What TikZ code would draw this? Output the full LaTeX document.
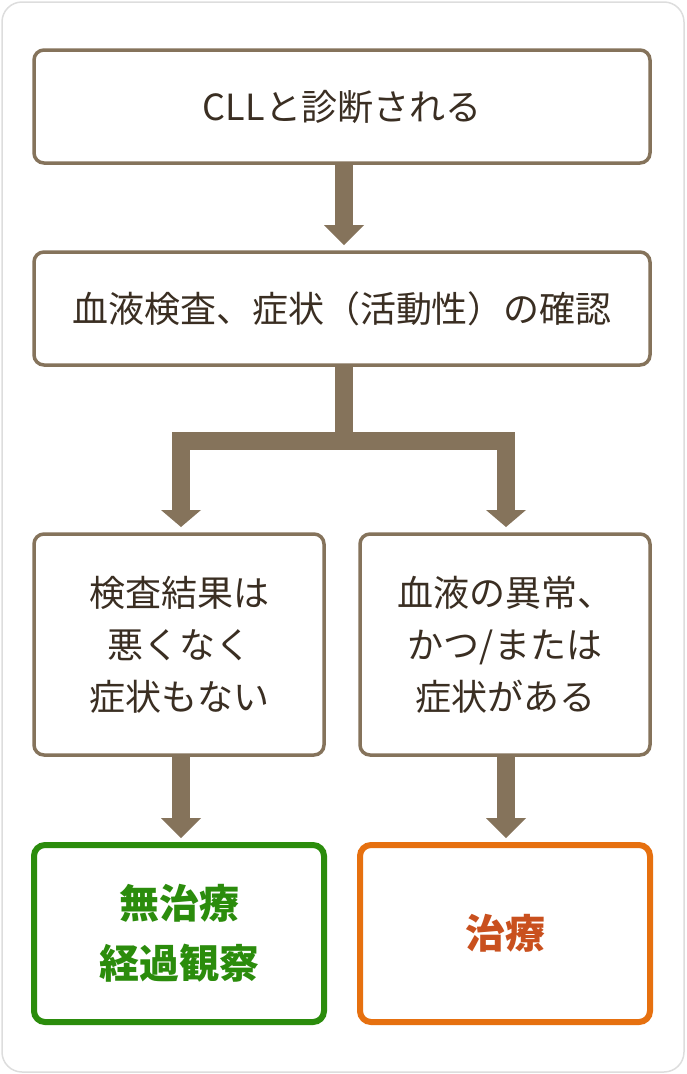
\documentclass[tikz,border=0pt]{standalone}
\usepackage{fontspec}
\setmainfont{Noto Sans CJK JP}
\definecolor{brn}{HTML}{85735B}
\definecolor{txt}{HTML}{3A2E22}
\definecolor{grn}{HTML}{2B8C0C}
\definecolor{org}{HTML}{E6700F}
\definecolor{orgt}{HTML}{C9501E}
\definecolor{outl}{HTML}{DDDDDD}
\begin{document}
\begin{tikzpicture}[x=1pt,y=-1pt,
 box/.style={draw=brn,line width=3.5pt,rounded corners=10pt,fill=white,font=\fontsize{36}{52}\selectfont,text=txt,align=center},
 res/.style={line width=6pt,rounded corners=11pt,fill=white,font=\fontsize{40}{60}\selectfont\bfseries,align=center},
 shaft/.style={brn,line width=18pt},
 head/.style={fill=brn,draw=none}]
\useasboundingbox (0,0) rectangle (686,1074);
\draw[outl,line width=1.5pt,rounded corners=20pt,fill=white] (2,2) rectangle (684,1072);
\node[box,minimum width=616pt,minimum height=113pt] (b1) at (342,106.5) {CLLと診断される};
\node[box,minimum width=616pt,minimum height=113pt] (b2) at (342,308.5) {血液検査、症状（活動性）の確認};
\node[box,minimum width=290pt,minimum height=221pt] (b3) at (179,644.5) {検査結果は\\悪くなく\\症状もない};
\node[box,minimum width=290pt,minimum height=221pt] (b4) at (505,644.5) {血液の異常、\\かつ/または\\症状がある};
\node[res,draw=grn,text=grn,minimum width=290pt,minimum height=177pt] (b5) at (179,933.5) {無治療\\経過観察};
\node[res,draw=org,text=orgt,minimum width=290pt,minimum height=177pt] (b6) at (505,933.5) {治療};
% arrow 1
\coordinate (h1) at (344,245);
\draw[shaft] (b1.south -| h1) -- ++(0,63);
\fill[head] (324,225) -- (364,225) -- (h1) -- cycle;
% split
\coordinate (h3) at (181,527);
\coordinate (h4) at (506,527);
\draw[shaft] (b2.south -| h1) -- (344,440.5) (172,440.5) -- (515,440.5)
  (181,440.5) -- (181,511) (506,440.5) -- (506,511);
\fill[head] (161,510) -- (201,510) -- (h3) -- cycle;
\fill[head] (486,510) -- (526,510) -- (h4) -- cycle;
% lower arrows
\coordinate (h5) at (181,838);
\coordinate (h6) at (506,838);
\draw[shaft] (b3.south -| h5) -- ++(0,64) (b4.south -| h6) -- ++(0,64);
\fill[head] (161,818) -- (201,818) -- (h5) -- cycle;
\fill[head] (486,818) -- (526,818) -- (h6) -- cycle;
\end{tikzpicture}
\end{document}
